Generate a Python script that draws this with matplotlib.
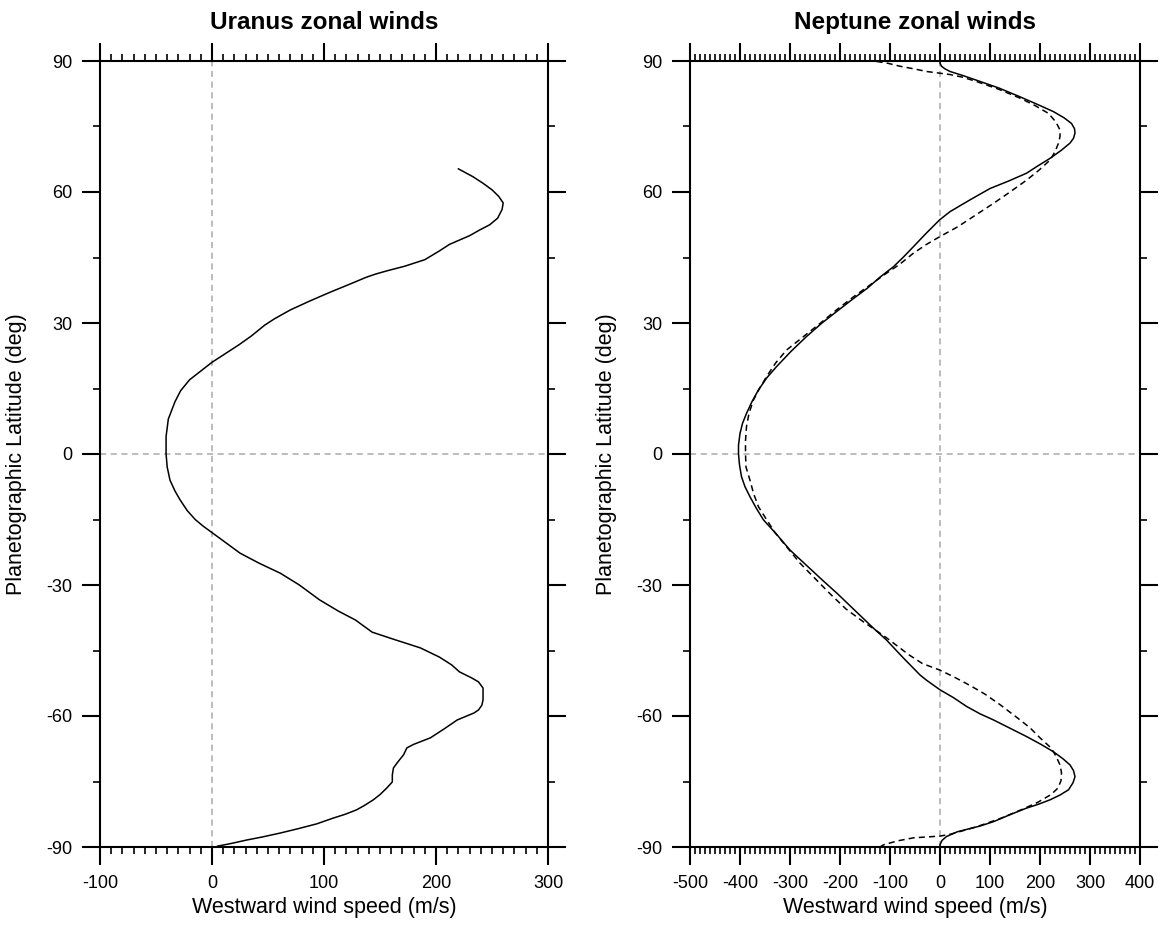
import numpy as np
import matplotlib.pyplot as plt
from matplotlib.ticker import MultipleLocator

plt.rcParams['font.family'] = ['Liberation Sans', 'DejaVu Sans']
plt.rcParams['axes.unicode_minus'] = False

# Uranus profile (latitude deg, westward wind m/s)
uranus_lat = [65.3, 63.5, 62, 60.5, 59, 57.5, 56, 54, 52.5, 51.3, 50, 49, 48, 46.5,
              44.5, 43, 42, 41.2, 40.5, 39, 37, 35, 33, 31, 29.5, 27, 25, 23, 21, 19,
              17, 14.5, 12, 8, 4, 0, -3, -6, -8.5, -10.5, -13, -15, -16.5, -18, -19.5,
              -22.7, -25, -27.3, -30, -33.4, -36, -38, -39.5, -40.8, -42.5, -44.4,
              -46.5, -48.3, -49.9, -51.3, -52.2, -53.6, -56.3, -57.5, -58.6, -59.3,
              -60.9, -63, -65, -66.5, -67.3, -68.9, -70.5, -71.9, -73.5, -75.1,
              -76.5, -78, -79.2, -80.5, -81.5, -82.5, -83.4, -84.7, -85.8, -86.8,
              -87.7, -88.4, -89.2, -89.8]
uranus_u = [220, 233, 242, 250, 256, 260, 259, 255, 248, 239, 230, 221, 212, 203,
            190, 172, 157, 146, 138, 124, 105, 87, 70, 56, 47, 35, 24, 12, 0, -10,
            -20, -28, -33, -39, -41, -41, -40, -37.5, -33, -28.5, -22, -15, -8, 0, 8,
            25, 42, 61, 78, 96, 113, 128, 136, 143, 163, 186,
            203, 214, 221, 232, 238, 242, 242, 241, 238, 234,
            219, 207, 195, 180, 174, 171, 166, 162, 161, 161,
            156, 150, 144, 136, 129, 119, 108, 93.5, 77, 61,
            45, 31, 17, 5]

# Neptune measured profile (solid)
nep_lat = [90, 89.5, 88.8, 88.2, 87.6, 86.7, 85.6, 83.8, 81.8, 80, 78.4, 77, 75.7,
           74.5, 73.5, 72.3, 71.2, 69.5, 67.7, 66, 64.3, 62.5, 60.8, 58.2, 55.5,
           53.6, 50.5, 47.5, 45, 42.9, 40.5, 38, 35, 32.6, 30, 26.9, 23.5, 20, 17.5,
           14.7, 12, 9.3, 7, 4.7, 2, 0, -2.5, -5.2, -7.5, -9.8, -12.5, -15.1, -18.5,
           -22, -25.5, -28.9, -32, -35.3, -39.9, -42.6, -46.5, -50.6, -51.8, -54,
           -55.8, -57.8, -59.5, -60.9, -62.8, -64.7, -66.5, -68.2, -69.8, -71.2,
           -72.5, -73.9, -75.3, -76.9, -78.1, -79.2, -80.2, -81.1, -82.6, -84.2,
           -85.2, -86.5, -87.6, -88.5, -89.5, -90]
nep_u = [0, 0, 3, 10, 20, 45, 73, 118, 160, 196, 227, 248, 263,
         269, 270, 267, 260, 242, 220, 196, 173, 137, 100, 60, 20,
         -1, -28, -53, -74, -93, -120, -145, -180, -207, -236, -267, -298, -327, -346,
         -363, -376, -387, -395, -400, -403, -403, -401, -397, -390, -380, -367, -353, -326,
         -300, -267, -235, -205, -175, -133, -107, -75, -40, -27, 0,
         27, 53, 80, 107, 140, 173, 202, 227, 246, 260,
         267, 270, 266, 257, 240, 220, 197, 173, 140, 107,
         80, 35, 13, 4, 0, 0]

# Neptune fitted profile (dashed)
fit_lat = [89.9, 89.5, 88.8, 88.2, 87.6, 87.2, 86.9, 86.3, 85.3, 83.5, 81.5, 79.8, 78,
           76, 74.2, 72.7, 71.2, 69.2, 67.3, 65, 62.7, 60, 57.4, 54.4, 52, 49.8, 48,
           46, 43.5, 41.4, 38.7, 36, 33, 29.9, 26.8, 23.8, 20.8, 17.7, 15, 12.4, 9.3,
           6.3, 3, 0, -3, -6, -9, -12.1, -15, -18, -21.5, -25, -28.5, -32, -35.5,
           -38.7, -40, -42, -44, -46, -48, -49.5, -51, -53, -55, -57.4, -60, -62.7,
           -65, -67.3, -69.2, -71.2, -73, -74.8, -76.5, -78, -79.8, -81.5, -83.5,
           -85.3, -86.3, -87.1, -87.5, -87.9, -88.6, -89.5, -90]
fit_u = [-127, -105, -80, -52, -27, 0, 20, 45, 73, 118, 160, 190, 217,
         232, 240, 240, 237, 230, 220, 198, 173, 140, 107, 67, 35, 0, -27,
         -53, -80, -107, -140, -173, -207, -240, -274, -307, -329, -347, -361, -373, -382,
         -387, -389, -389, -388, -380, -373, -363, -347, -330, -305, -280, -250, -220, -188,
         -150, -133, -108, -85, -62, -35, 0, 27, 60, 90, 120, 150, 180,
         200, 222, 232, 240, 243, 242, 236, 222, 195, 162, 120,
         75, 45, 20, 0, -53, -85, -113, -120]

uranus_xticks = [-100, 0, 100, 200, 300]
neptune_xticks = [-500, -400, -300, -200, -100, 0, 100, 200, 300, 400]
lat_ticks = [-90, -60, -30, 0, 30, 60, 90]

W, H = 1162, 926
fig = plt.figure(figsize=(W / 100, H / 100), dpi=100)
ax1 = fig.add_axes([100 / W, 79 / H, 448 / W, 786 / H])
ax2 = fig.add_axes([690 / W, 79 / H, 450 / W, 786 / H])


def style_axis(ax, xlim, xticks, title):
    ax.axvline(0, color='#aaaaaa', lw=1.1, ls=(0, (4, 3)), zorder=1)
    ax.axhline(0, color='#aaaaaa', lw=1.1, ls=(0, (4, 3)), zorder=1)
    ax.set_xlim(*xlim)
    ax.set_ylim(-90, 90)
    ax.set_xticks(xticks)
    ax.set_yticks(lat_ticks)
    ax.xaxis.set_minor_locator(MultipleLocator(10))
    ax.yaxis.set_minor_locator(MultipleLocator(15))
    ax.tick_params(which='both', direction='out', top=True, right=True,
                   labelsize=13, colors='black')
    ax.tick_params(which='major', length=13, width=1.5, pad=7)
    ax.tick_params(which='minor', length=5, width=1.2)
    for sp in ax.spines.values():
        sp.set_linewidth(1.5)
    ax.set_xlabel('Westward wind speed (m/s)', fontsize=15.5)
    ax.set_ylabel('Planetographic Latitude (deg)', fontsize=15.5)
    ax.xaxis.set_label_coords(0.5, -0.064)
    ax.yaxis.set_label_coords(-0.163, 0.5)
    ax.set_title(title, fontsize=17.5, fontweight='bold', y=1.0, pad=23)


ax1.plot(uranus_u, uranus_lat, color='black', lw=1.1, zorder=3)
style_axis(ax1, (-100, 300), uranus_xticks, 'Uranus zonal winds')

ax2.plot(nep_u, nep_lat, color='black', lw=1.1, zorder=3)
ax2.plot(fit_u, fit_lat, color='black', lw=1.1, ls=(0, (4, 2.7)), zorder=3)
style_axis(ax2, (-500, 400), neptune_xticks, 'Neptune zonal winds')

fig.savefig('out.png', dpi=100, facecolor='white')
